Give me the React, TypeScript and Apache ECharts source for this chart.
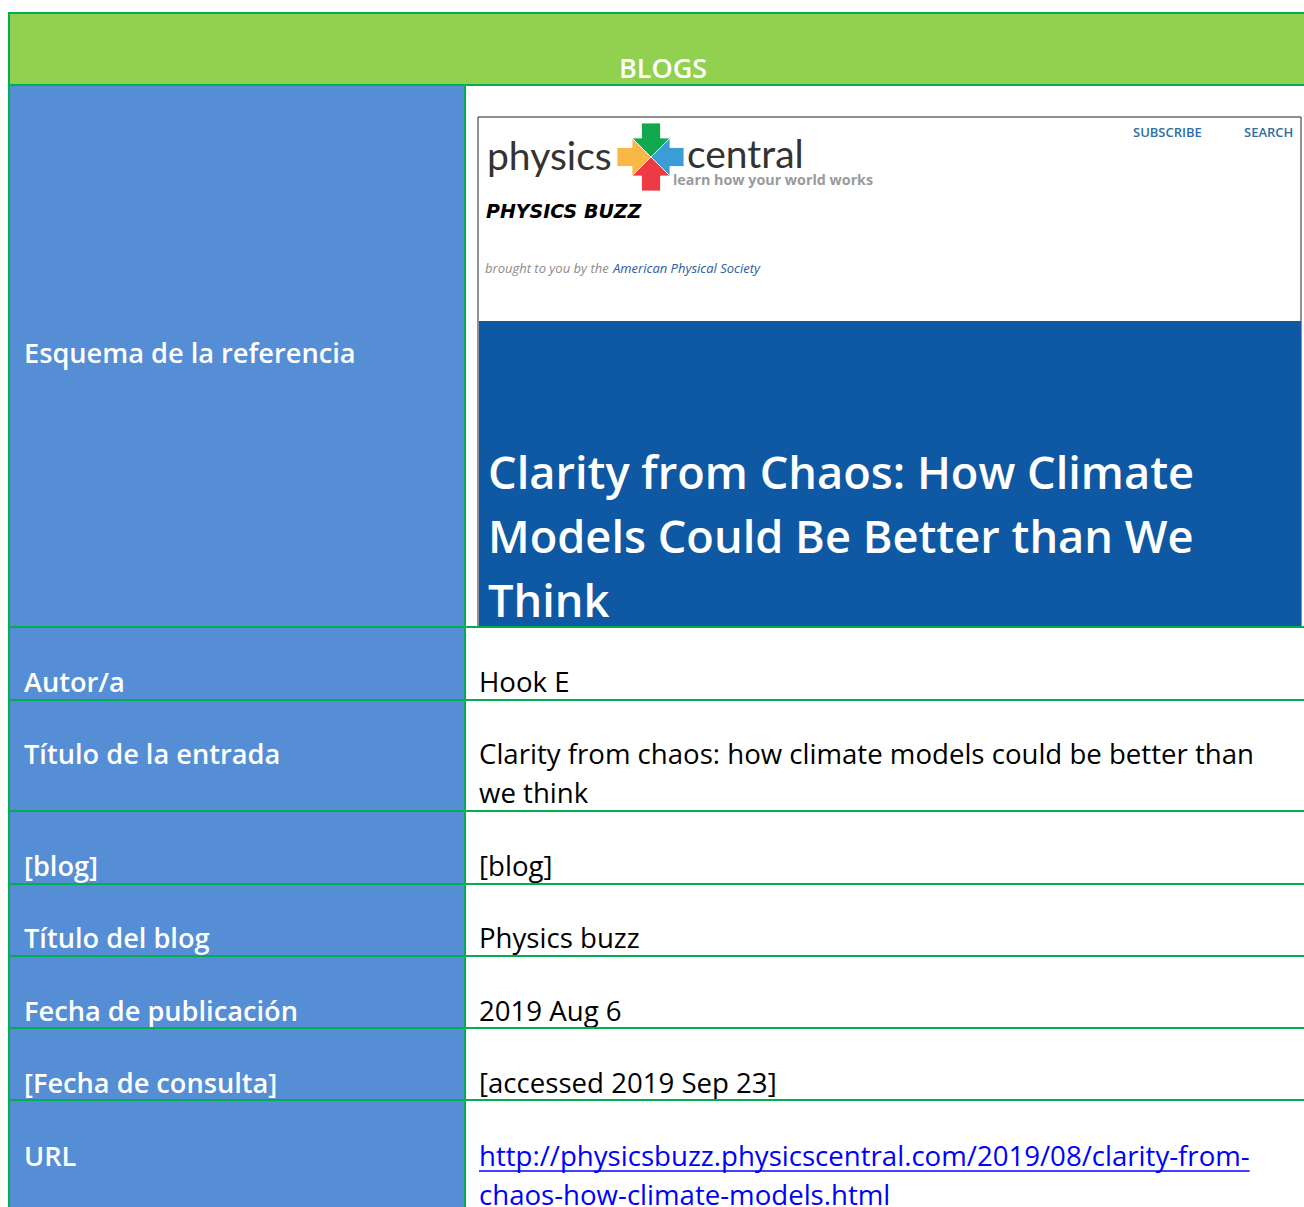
import React, { useEffect, useRef } from "react";
import * as echarts from "echarts";

const headerTitle = "BLOGS";
const rowLabels = [
  "Esquema de la referencia",
  "Autor/a",
  "Título de la entrada",
  "[blog]",
  "Título del blog",
  "Fecha de publicación",
  "[Fecha de consulta]",
  "URL",
];
const rowValues: string[][] = [
  [],
  ["Hook E"],
  ["Clarity from chaos: how climate models could be better than", "we think"],
  ["[blog]"],
  ["Physics buzz"],
  ["2019 Aug 6"],
  ["[accessed 2019 Sep 23]"],
  ["http://physicsbuzz.physicscentral.com/2019/08/clarity-from-", "chaos-how-climate-models.html"],
];
const rowBottoms = [627, 700, 811, 884, 956, 1028, 1100, 1240];
const shotTitleLines = ["Clarity from Chaos: How Climate", "Models Could Be Better than We", "Think"];
const shotNav = ["SUBSCRIBE", "SEARCH"];

const W = 1304;
const H = 1207;
const GREEN_LINE = "#00B050";
const HEADER_GREEN = "#92D050";
const LABEL_BLUE = "#558ED5";
const FONT = "'Open Sans', 'Noto Sans', sans-serif";
const VAL_FONT = `27.6px ${FONT}`;

export default function App() {
  const ref = useRef<HTMLDivElement>(null);
  useEffect(() => {
    if (!ref.current) return;
    const chart = echarts.init(ref.current, undefined, { renderer: "svg", width: W, height: H });
    const els: any[] = [];
    const X0 = 8;
    const COLX = 464;
    const HEAD_T = 12;
    const HEAD_B = 85;

    // header
    els.push({ type: "rect", shape: { x: X0, y: HEAD_T, width: W - X0, height: HEAD_B - HEAD_T }, style: { fill: HEADER_GREEN } });
    els.push({ type: "text", x: 663, y: 67, style: { text: headerTitle, fill: "#fff", font: `600 27px ${FONT}`, align: "center", verticalAlign: "middle" } });

    // label column
    els.push({ type: "rect", shape: { x: X0, y: HEAD_B, width: COLX - X0, height: H - HEAD_B }, style: { fill: LABEL_BLUE } });

    // screenshot
    const SX = 478, SY = 117, SW = 823, SH = 510;
    els.push({ type: "rect", shape: { x: SX, y: SY, width: SW, height: SH }, style: { fill: "#fff", stroke: "#222", lineWidth: 1 } });
    els.push({ type: "rect", shape: { x: SX + 1, y: 321, width: SW - 1, height: SY + SH - 321 }, style: { fill: "#0F58A3" } });
    // logo text
    els.push({ type: "text", x: 487, y: 155, style: { text: "physics", fill: "#333", font: `39px Lato, sans-serif`, align: "left", verticalAlign: "middle" } });
    els.push({ type: "text", x: 687, y: 153, style: { text: "central", fill: "#333", font: `39px Lato, sans-serif`, align: "left", verticalAlign: "middle" } });
    els.push({ type: "text", x: 673, y: 179, style: { text: "learn how your world works", fill: "#9a9a9a", font: `bold 14.3px ${FONT}`, align: "left", verticalAlign: "middle" } });
    // logo cross
    const cx = 651, cy = 157, r = 19, hw = 9.5;
    const TL = [cx - r, cy - r], TR = [cx + r, cy - r], BR = [cx + r, cy + r], BL = [cx - r, cy + r], C = [cx, cy];
    const cross = [
      { c: "#12A84E", pts: [[cx - hw, 123], [cx + hw, 123], [cx + hw, TR[1]], TR, C, TL, [cx - hw, TL[1]]] },
      { c: "#F9B845", pts: [[617, cy - hw], [TL[0], cy - hw], TL, C, BL, [BL[0], cy + hw], [617, cy + hw]] },
      { c: "#3B9DD6", pts: [[684, cy - hw], [TR[0], cy - hw], TR, C, BR, [BR[0], cy + hw], [684, cy + hw]] },
      { c: "#EE3A43", pts: [[cx - hw, 191], [cx + hw, 191], [cx + hw, BR[1]], BR, C, BL, [cx - hw, BL[1]]] },
    ];
    cross.forEach((p) => els.push({ type: "polygon", shape: { points: p.pts }, style: { fill: p.c, stroke: "#fff", lineWidth: 0.8 } }));
    els.push({ type: "text", x: 486, y: 211, style: { text: "PHYSICS BUZZ", fill: "#000", font: `italic 900 19px 'DejaVu Sans', sans-serif`, align: "left", verticalAlign: "middle" } });
    els.push({ type: "text", x: 485, y: 268, style: { text: "brought to you by the", fill: "#8a8a8a", font: `italic 13px ${FONT}`, align: "left", verticalAlign: "middle" } });
    els.push({ type: "text", x: 613, y: 268, style: { text: "American Physical Society", fill: "#2A5BA0", font: `italic 13px ${FONT}`, align: "left", verticalAlign: "middle" } });
    els.push({ type: "text", x: 1133, y: 132, style: { text: shotNav[0], fill: "#2E6DA4", font: `600 13px ${FONT}`, align: "left", verticalAlign: "middle" } });
    els.push({ type: "text", x: 1244, y: 132, style: { text: shotNav[1], fill: "#2E6DA4", font: `600 13px ${FONT}`, align: "left", verticalAlign: "middle" } });
    shotTitleLines.forEach((t, i) => {
      els.push({ type: "text", x: 488, y: 471 + i * 64, style: { text: t, fill: "#fff", font: `600 45.2px ${FONT}`, align: "left", verticalAlign: "middle" } });
    });

    // row labels and values
    const labelY = [352, 681, 753, 865, 937, 1010, 1082, 1155];
    const urlIdx = rowLabels.length - 1;
    rowLabels.forEach((t, i) => {
      els.push({ type: "text", x: 24, y: labelY[i], style: { text: t, fill: "#fff", font: `600 27.2px ${FONT}`, align: "left", verticalAlign: "middle" } });
      const vals = rowValues[i];
      vals.forEach((v, j) => {
        const y = labelY[i] + j * 39;
        els.push({ type: "text", x: 479, y, style: { text: v, fill: i === urlIdx ? "#0000FF" : "#000", font: VAL_FONT, align: "left", verticalAlign: "middle" } });
        if (i === urlIdx) {
          const w = (echarts as any).format?.getTextRect ? (echarts as any).format.getTextRect(v, VAL_FONT).width : v.length * 13.4;
          els.push({ type: "line", shape: { x1: 479, y1: y + 16, x2: 479 + w, y2: y + 16 }, style: { stroke: "#0000FF", lineWidth: 1.5 } });
        }
      });
    });

    // grid lines
    const hl = (y: number) => els.push({ type: "line", shape: { x1: X0, y1: y, x2: W, y2: y }, style: { stroke: GREEN_LINE, lineWidth: 2 } });
    hl(HEAD_T + 1);
    hl(HEAD_B);
    rowBottoms.forEach((y) => hl(y));
    els.push({ type: "line", shape: { x1: X0 + 1, y1: HEAD_T, x2: X0 + 1, y2: H }, style: { stroke: GREEN_LINE, lineWidth: 2 } });
    els.push({ type: "line", shape: { x1: COLX + 1, y1: HEAD_B, x2: COLX + 1, y2: H }, style: { stroke: GREEN_LINE, lineWidth: 2 } });

    chart.setOption({ animation: false, graphic: { elements: els } });
    return () => chart.dispose();
  }, []);
  return <div ref={ref} style={{ position: "fixed", left: 0, top: 0, width: W, height: H, background: "#fff" }} />;
}
